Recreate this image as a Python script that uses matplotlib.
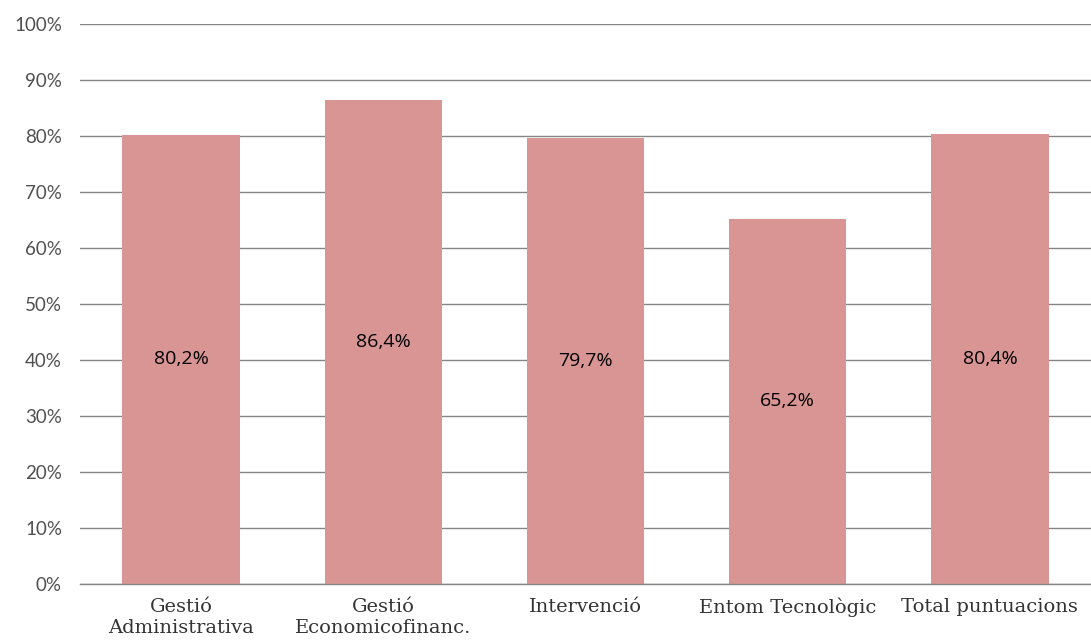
import matplotlib.pyplot as plt
import numpy as np

categories = ["Gestió\nAdministrativa", "Gestió\nEconomicofinanc.", "Intervenció",
              "Entom Tecnològic", "Total puntuacions"]
values = [80.2, 86.4, 79.7, 65.2, 80.4]
value_labels = ["80,2%", "86,4%", "79,7%", "65,2%", "80,4%"]
yticks = list(range(0, 101, 10))

fig = plt.figure(figsize=(10.91, 6.42), dpi=100)
ax = fig.add_axes([80 / 1091, 1 - 584 / 642, 1 - 80 / 1091, (584 - 24) / 642])

x = np.arange(len(categories))
ax.bar(x, values, width=0.58, color="#D99594", zorder=2)

for xi, v, lab in zip(x, values, value_labels):
    ax.text(xi, v / 2, lab, ha="center", va="center", fontsize=14,
            family="Open Sans", color="black", zorder=3)

ax.set_xlim(-0.5, len(categories) - 0.5)
ax.set_ylim(0, 100)
ax.set_yticks(yticks)
ax.set_yticklabels([f"{t}%" for t in yticks], family="Lato",
                   fontsize=13.5, color="#505050")
ax.set_xticks(x)
ax.set_xticklabels(categories, family="DejaVu Serif", fontsize=14,
                   color="#333333", linespacing=1.2)
ax.tick_params(axis="both", length=0)
ax.tick_params(axis="y", pad=13)
ax.tick_params(axis="x", pad=10)

ax.grid(axis="y", color="#868686", linewidth=1, zorder=0)
ax.set_axisbelow(True)
for s in ["top", "right", "left"]:
    ax.spines[s].set_visible(False)
ax.spines["bottom"].set_color("#868686")
ax.spines["bottom"].set_linewidth(1)

fig.savefig("out.png", dpi=100)
